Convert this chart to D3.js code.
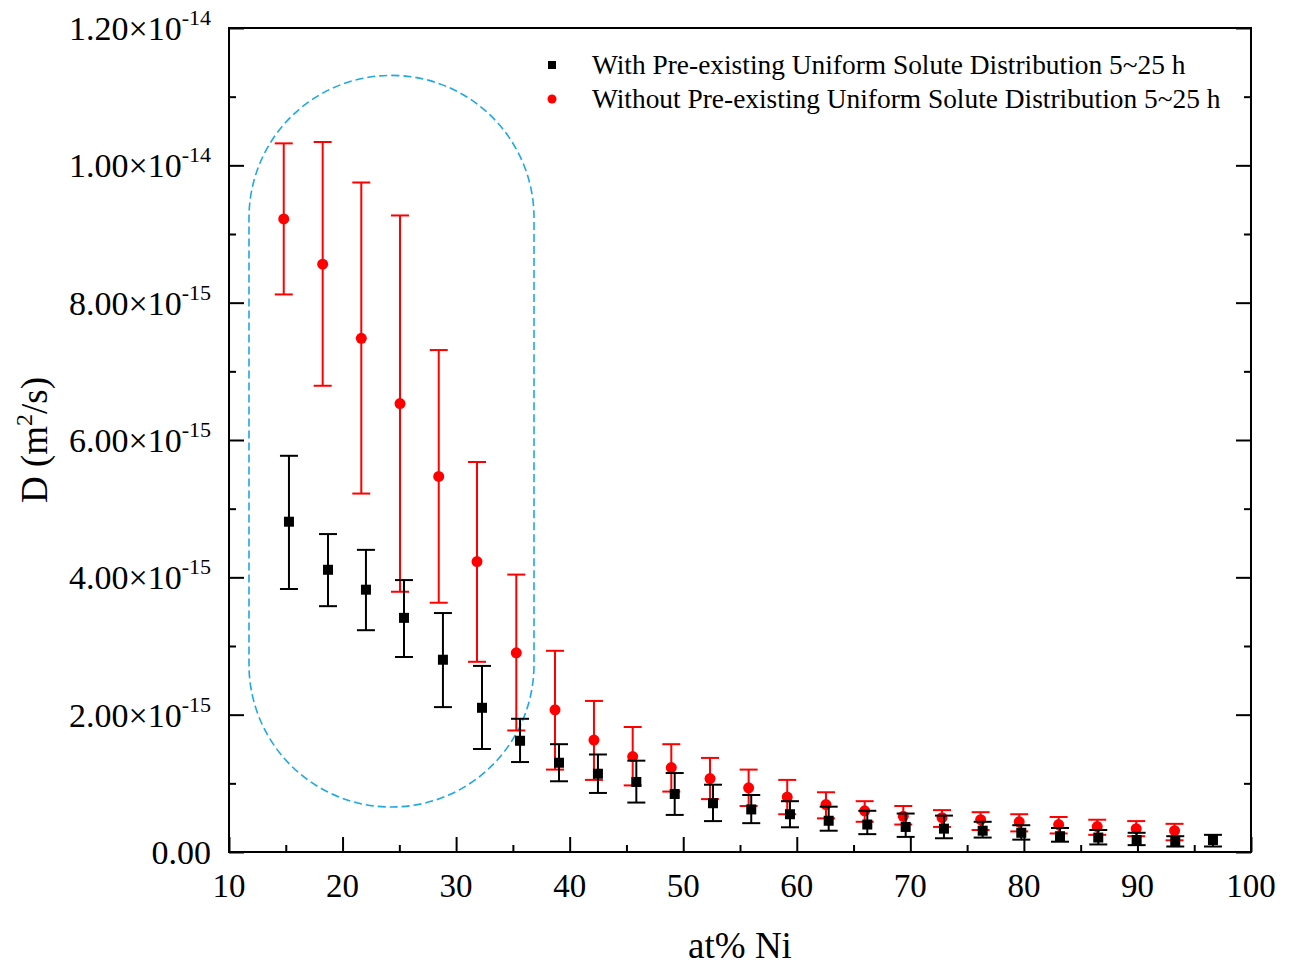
<!DOCTYPE html>
<html>
<head>
<meta charset="utf-8">
<script src="https://cdn.jsdelivr.net/npm/d3@7"></script>
<style>
  html, body { margin: 0; padding: 0; background: #fff; }
  svg { display: block; font-family: "Liberation Serif", "Times New Roman", serif; }
</style>
</head>
<body>
<svg id="chart" width="1291" height="968"></svg>
<script>
// ---------- data (D in units of 1e-15 m^2/s) ----------
const withX  = [15.28, 18.72, 22.06, 25.41, 28.84, 32.28, 35.63, 39.06, 42.49, 45.87, 49.25, 52.62, 55.99, 59.40, 62.81, 66.21, 69.59, 72.96, 76.37, 79.77, 83.18, 86.55, 89.93, 93.33, 96.65];
const withD  = [4.81, 4.11, 3.82, 3.41, 2.80, 2.10, 1.62, 1.30, 1.14, 1.02, 0.845, 0.71, 0.62, 0.55, 0.455, 0.40, 0.365, 0.34, 0.31, 0.28, 0.23, 0.21, 0.175, 0.145, 0.175];
const withHi = [5.77, 4.63, 4.40, 3.96, 3.48, 2.71, 1.94, 1.57, 1.42, 1.33, 1.15, 0.98, 0.83, 0.74, 0.66, 0.60, 0.56, 0.53, 0.44, 0.39, 0.35, 0.32, 0.28, 0.23, 0.25];
const withLo = [3.83, 3.58, 3.23, 2.84, 2.11, 1.50, 1.31, 1.03, 0.86, 0.72, 0.54, 0.45, 0.42, 0.36, 0.31, 0.26, 0.22, 0.20, 0.21, 0.18, 0.15, 0.11, 0.10, 0.08, 0.08];

const withoutX  = [14.82, 18.25, 21.65, 25.06, 28.47, 31.84, 35.30, 38.71, 42.14, 45.55, 48.95, 52.36, 55.76, 59.16, 62.57, 65.98, 69.38, 72.79, 76.19, 79.59, 83.06, 86.46, 89.89, 93.27];
const withoutD  = [9.22, 8.56, 7.48, 6.53, 5.47, 4.23, 2.90, 2.07, 1.63, 1.39, 1.23, 1.07, 0.935, 0.80, 0.69, 0.60, 0.52, 0.50, 0.47, 0.44, 0.40, 0.37, 0.34, 0.31];
const withoutHi = [10.32, 10.34, 9.75, 9.27, 7.31, 5.68, 4.04, 2.93, 2.20, 1.82, 1.57, 1.37, 1.20, 1.05, 0.87, 0.74, 0.67, 0.61, 0.58, 0.55, 0.51, 0.47, 0.45, 0.41];
const withoutLo = [8.12, 6.79, 5.22, 3.79, 3.63, 2.77, 1.77, 1.20, 1.05, 0.97, 0.88, 0.77, 0.67, 0.55, 0.49, 0.44, 0.40, 0.365, 0.32, 0.30, 0.27, 0.25, 0.23, 0.17];

const seriesNames = ["With Pre-existing Uniform Solute Distribution 5~25 h",
                     "Without Pre-existing Uniform Solute Distribution 5~25 h"];

const xTicks = [10, 20, 30, 40, 50, 60, 70, 80, 90, 100];
const xMinorTicks = [15, 25, 35, 45, 55, 65, 75, 85, 95];
const yTicks = [0, 2, 4, 6, 8, 10, 12];
const yMinorTicks = [1, 3, 5, 7, 9, 11];
const yTickBase = ["0.00", "2.00\u00D710", "4.00\u00D710", "6.00\u00D710", "8.00\u00D710", "1.00\u00D710", "1.20\u00D710"];
const yTickExp  = ["", "-15", "-15", "-15", "-15", "-14", "-14"];

// highlighted region (data units): x range and D range
const regionX = [11.76, 36.86];
const regionD = [0.655, 11.31];

// ---------- layout ----------
const L = 229, R = 1251, T = 28, B = 852;
const svg = d3.select("#chart");
const x = d3.scaleLinear().domain([10, 100]).range([L, R]);
const y = d3.scaleLinear().domain([0, 12]).range([B, T]);

const MAJ = 15, MIN = 7;

// frame
svg.append("rect").attr("x", L).attr("y", T).attr("width", R - L).attr("height", B - T)
  .attr("fill", "none").attr("stroke", "#000").attr("stroke-width", 2);

function styleAxis(g) {
  g.select(".domain").remove();
  g.selectAll(".tick line").attr("stroke", "#000").attr("stroke-width", 2);
  g.selectAll(".tick text").remove();
}
// bottom axis ticks (inward)
svg.append("g").attr("transform", `translate(0,${B})`)
  .call(d3.axisBottom(x).tickValues(xTicks).tickSize(-MAJ).tickFormat("")).call(styleAxis);
svg.append("g").attr("transform", `translate(0,${B})`)
  .call(d3.axisBottom(x).tickValues(xMinorTicks).tickSize(-MIN).tickFormat("")).call(styleAxis);
// left axis ticks (inward)
svg.append("g").attr("transform", `translate(${L},0)`)
  .call(d3.axisLeft(y).tickValues(yTicks).tickSize(-MAJ).tickFormat("")).call(styleAxis);
svg.append("g").attr("transform", `translate(${L},0)`)
  .call(d3.axisLeft(y).tickValues(yMinorTicks).tickSize(-MIN).tickFormat("")).call(styleAxis);
// right axis ticks (inward)
svg.append("g").attr("transform", `translate(${R},0)`)
  .call(d3.axisRight(y).tickValues(yTicks).tickSize(-MAJ).tickFormat("")).call(styleAxis);
svg.append("g").attr("transform", `translate(${R},0)`)
  .call(d3.axisRight(y).tickValues(yMinorTicks).tickSize(-MIN).tickFormat("")).call(styleAxis);

// x tick labels
svg.append("g").selectAll("text").data(xTicks).join("text")
  .attr("x", d => x(d)).attr("y", B + 45)
  .attr("text-anchor", "middle").attr("font-size", 33).attr("fill", "#000")
  .text(d => d);

// y tick labels with superscripts
const yl = svg.append("g").selectAll("text").data(yTicks).join("text")
  .attr("x", 211).attr("y", d => y(d) + 12)
  .attr("text-anchor", "end").attr("font-size", 34).attr("fill", "#000");
yl.append("tspan").text((d, i) => yTickBase[i]);
yl.append("tspan").attr("font-size", 22).attr("dy", -15).text((d, i) => yTickExp[i]);

// axis titles
svg.append("text").attr("x", (L + R) / 2).attr("y", 958)
  .attr("text-anchor", "middle").attr("font-size", 37).text("at% Ni");
const yt = svg.append("text").attr("transform", `translate(47,${(T + B) / 2}) rotate(-90)`)
  .attr("text-anchor", "middle").attr("font-size", 37);
yt.append("tspan").text("D (m");
yt.append("tspan").attr("font-size", 24).attr("dy", -15).text("2");
yt.append("tspan").attr("dy", 15).text("/s)");

// dashed highlight region (stadium)
{
  const x0 = x(regionX[0]), x1 = x(regionX[1]);
  const y0 = y(regionD[1]), y1 = y(regionD[0]);
  const r = (x1 - x0) / 2;
  svg.append("rect").attr("x", x0).attr("y", y0).attr("width", x1 - x0).attr("height", y1 - y0)
    .attr("rx", r).attr("ry", r)
    .attr("fill", "none").attr("stroke", "#1fa7e6").attr("stroke-width", 1.6)
    .attr("stroke-dasharray", "8,4");
}

// error bars + markers
const CAP = 9;
function drawSeries(xs, ds, his, los, color, shape) {
  const data = xs.map((v, i) => ({x: v, d: ds[i], hi: his[i], lo: los[i]}));
  const g = svg.append("g");
  g.selectAll("line.v").data(data).join("line")
    .attr("x1", d => x(d.x)).attr("x2", d => x(d.x))
    .attr("y1", d => y(d.hi)).attr("y2", d => y(d.lo))
    .attr("stroke", color).attr("stroke-width", 2);
  ["hi", "lo"].forEach(k => {
    g.selectAll("line.c" + k).data(data).join("line")
      .attr("x1", d => x(d.x) - CAP).attr("x2", d => x(d.x) + CAP)
      .attr("y1", d => y(d[k])).attr("y2", d => y(d[k]))
      .attr("stroke", color).attr("stroke-width", 2);
  });
  if (shape === "square") {
    g.selectAll("rect").data(data).join("rect")
      .attr("x", d => x(d.x) - 5).attr("y", d => y(d.d) - 5)
      .attr("width", 10).attr("height", 10).attr("fill", color);
  } else {
    g.selectAll("circle").data(data).join("circle")
      .attr("cx", d => x(d.x)).attr("cy", d => y(d.d)).attr("r", 5.5).attr("fill", color);
  }
}
drawSeries(withoutX, withoutD, withoutHi, withoutLo, "#ff0000", "circle");
drawSeries(withX, withD, withHi, withLo, "#000000", "square");

// legend
const lg = svg.append("g");
lg.append("rect").attr("x", 548).attr("y", 61).attr("width", 8).attr("height", 8).attr("fill", "#000");
lg.append("circle").attr("cx", 552).attr("cy", 99).attr("r", 4.5).attr("fill", "#ff0000");
lg.selectAll("text").data(seriesNames).join("text")
  .attr("x", 592).attr("y", (d, i) => 74 + i * 34)
  .attr("font-size", 27.4).attr("fill", "#000").text(d => d);
</script>
</body>
</html>
